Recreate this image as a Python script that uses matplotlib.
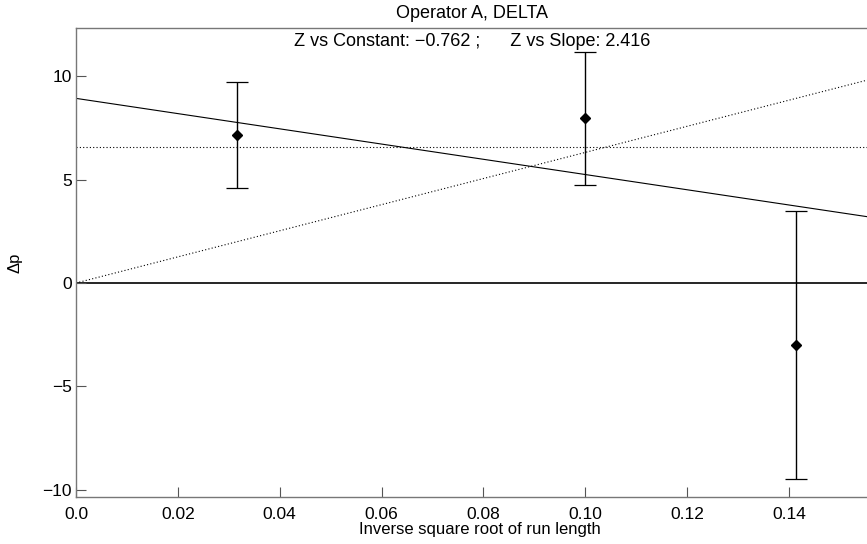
import matplotlib
matplotlib.use("Agg")
import matplotlib.pyplot as plt
import numpy as np

plt.rcParams['font.family'] = ['Liberation Sans', 'DejaVu Sans']

# Data
x_vals = [0.0316, 0.1000, 0.1414]
dp_vals = [7.15, 7.96, -2.98]
dp_err = [2.55, 3.22, 6.47]
const_level = 6.55
fit_intercept = 8.92
fit_slope = -36.8
origin_slope = 63.1
xticks = [0.0, 0.02, 0.04, 0.06, 0.08, 0.10, 0.12, 0.14]
xtick_labels = ["0.0", "0.02", "0.04", "0.06", "0.08", "0.10", "0.12", "0.14"]
yticks = [-10, -5, 0, 5, 10]
yticklabels = ["\u221210", "\u22125", "0", "5", "10"]
title = "Operator A, DELTA"
subtitle = "Z vs Constant: \u22120.762 ;      Z vs Slope: 2.416"

W, H = 867, 544
fig = plt.figure(figsize=(W / 100, H / 100), dpi=100)
left, bottom, top = 76, 497, 28
ax = fig.add_axes([left / W, 1 - bottom / H, 1 - left / W + 0.02, (bottom - top) / H])

xmax_ax = 0.1553 + 0.02 * W / 5093
ax.set_xlim(0.0, xmax_ax)
ax.set_ylim(-10.34, 12.32)

xs = np.array([0.0, xmax_ax])
ax.axhline(0, color='black', lw=1.2, zorder=1)
ax.plot(xs, [const_level, const_level], color='black', lw=0.8, ls=(0, (1, 2)), zorder=2)
ax.plot(xs, origin_slope * xs, color='black', lw=0.8, ls=(0, (1, 2)), zorder=2)
ax.plot(xs, fit_intercept + fit_slope * xs, color='black', lw=0.8, zorder=2)

ax.errorbar(x_vals, dp_vals, yerr=dp_err, fmt='D', color='black', ms=5,
            ecolor='black', elinewidth=1.0, capsize=8, capthick=0.9, zorder=3)

ax.set_xticks(xticks)
ax.set_xticklabels(xtick_labels)
ax.set_yticks(yticks)
ax.set_yticklabels(yticklabels)
ax.tick_params(direction='in', length=7, width=0.8, labelsize=12.5,
               top=False, right=False, color='#555555')
ax.tick_params(axis='x', pad=7.5)
ax.tick_params(axis='y', pad=3)
for s in ['left', 'bottom', 'top']:
    ax.spines[s].set_color('#777777')
    ax.spines[s].set_linewidth(1.0)
ax.spines['right'].set_visible(False)

ax.set_xlabel("Inverse square root of run length", fontsize=12, labelpad=0)
ax.set_ylabel("\u0394p", fontsize=12, labelpad=14)
fig.text((left + 867) / 2 / W, 1 - 13 / H, title, ha='center', va='center', fontsize=13)
fig.text(472 / W, 1 - 41 / H, subtitle, ha='center', va='center', fontsize=13)

fig.savefig("out.png", dpi=100)
